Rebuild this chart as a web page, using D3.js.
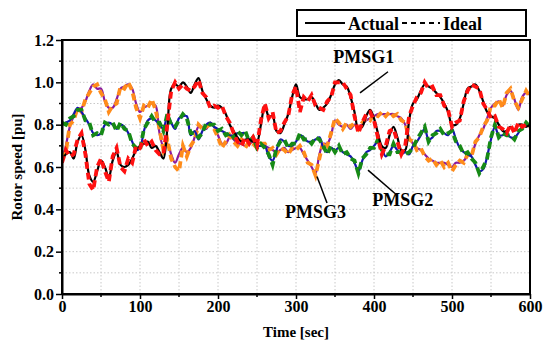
<!DOCTYPE html>
<html><head><meta charset="utf-8">
<script src="https://cdn.jsdelivr.net/npm/d3@7"></script>
<style>
html,body{margin:0;padding:0;background:#fff;}
svg text{font-family:"Liberation Serif","Times New Roman",Times,"DejaVu Serif",serif !important;font-weight:bold;}
</style></head>
<body><svg id="chart" width="543" height="347"></svg>
<script>
// time samples (s)
const time = d3.range(0, 601, 5);
const xTicks = [0,100,200,300,400,500,600];
const yTicks = [0.0,0.2,0.4,0.6,0.8,1.0,1.2];
const legendLabels = ["Actual","Ideal"];
const seriesNames = ["PMSG1","PMSG2","PMSG3"];

const pmsg1Actual = [0.63,0.66,0.67,0.64,0.72,0.75,0.68,0.56,0.53,0.58,0.63,0.60,0.55,0.63,0.67,0.61,0.60,0.61,0.64,0.68,
0.70,0.71,0.72,0.69,0.70,0.67,0.64,0.78,0.97,0.99,0.98,1.00,0.98,0.95,0.99,1.02,0.96,0.92,0.89,0.88,
0.89,0.88,0.85,0.80,0.77,0.74,0.72,0.73,0.73,0.72,0.72,0.80,0.89,0.84,0.84,0.77,0.76,0.80,0.85,0.93,
0.99,0.93,0.92,0.92,0.93,0.90,0.87,0.88,0.90,0.94,0.99,1.01,0.99,0.98,0.93,0.86,0.78,0.79,0.84,0.87,
0.83,0.76,0.70,0.69,0.75,0.79,0.74,0.68,0.68,0.82,0.90,0.92,0.96,0.99,0.98,0.97,0.95,0.93,0.90,0.86,
0.80,0.80,0.83,0.90,0.97,0.98,0.99,0.96,0.91,0.86,0.84,0.83,0.80,0.77,0.77,0.79,0.77,0.80,0.80,0.79,0.80];
const pmsg1Ideal = [0.62,0.68,0.65,0.66,0.73,0.76,0.66,0.52,0.49,0.60,0.64,0.58,0.53,0.65,0.69,0.60,0.58,0.64,0.62,0.70,
0.69,0.73,0.70,0.72,0.68,0.66,0.66,0.80,0.96,1.00,0.97,0.99,0.97,0.96,0.98,1.01,0.95,0.93,0.88,0.89,
0.88,0.89,0.84,0.81,0.76,0.72,0.70,0.74,0.71,0.74,0.70,0.82,0.90,0.83,0.86,0.76,0.77,0.81,0.84,0.94,
0.98,0.86,0.93,0.91,0.94,0.89,0.88,0.87,0.91,0.93,1.00,1.00,1.00,0.97,0.94,0.84,0.76,0.81,0.85,0.86,
0.82,0.74,0.66,0.70,0.77,0.78,0.72,0.66,0.70,0.84,0.89,0.93,0.95,1.00,0.97,0.98,0.94,0.94,0.89,0.87,
0.79,0.81,0.82,0.91,0.96,0.99,0.98,0.97,0.90,0.87,0.83,0.84,0.79,0.78,0.76,0.80,0.76,0.81,0.79,0.80,0.79];

const pmsg2Actual = [0.80,0.81,0.82,0.85,0.88,0.86,0.83,0.80,0.76,0.75,0.76,0.80,0.81,0.80,0.78,0.80,0.79,0.76,0.72,0.68,
0.69,0.77,0.82,0.83,0.82,0.80,0.78,0.84,0.81,0.78,0.83,0.84,0.84,0.75,0.77,0.73,0.77,0.80,0.81,0.79,
0.78,0.77,0.76,0.75,0.75,0.76,0.76,0.76,0.73,0.73,0.70,0.70,0.70,0.65,0.63,0.68,0.73,0.72,0.70,0.70,
0.72,0.75,0.74,0.72,0.72,0.73,0.74,0.69,0.67,0.69,0.68,0.69,0.67,0.66,0.65,0.62,0.58,0.63,0.67,0.68,
0.70,0.72,0.69,0.65,0.67,0.70,0.68,0.66,0.67,0.66,0.70,0.72,0.75,0.78,0.73,0.74,0.77,0.77,0.76,0.75,
0.78,0.73,0.69,0.67,0.66,0.65,0.61,0.58,0.59,0.65,0.73,0.79,0.75,0.75,0.76,0.74,0.74,0.76,0.79,0.80,0.80];
const pmsg2Ideal = [0.81,0.80,0.83,0.84,0.87,0.87,0.82,0.81,0.75,0.76,0.75,0.81,0.80,0.81,0.77,0.81,0.78,0.77,0.71,0.69,
0.68,0.78,0.81,0.84,0.81,0.81,0.77,0.85,0.80,0.79,0.82,0.85,0.83,0.76,0.76,0.74,0.76,0.81,0.80,0.80,
0.77,0.78,0.75,0.76,0.74,0.77,0.75,0.77,0.72,0.74,0.69,0.71,0.69,0.66,0.61,0.69,0.72,0.73,0.69,0.71,
0.71,0.76,0.73,0.73,0.71,0.74,0.73,0.70,0.66,0.70,0.67,0.70,0.66,0.67,0.64,0.63,0.57,0.64,0.66,0.69,
0.69,0.73,0.68,0.66,0.66,0.71,0.67,0.67,0.66,0.67,0.69,0.73,0.76,0.79,0.72,0.75,0.76,0.78,0.75,0.76,
0.77,0.72,0.70,0.66,0.67,0.64,0.62,0.57,0.60,0.64,0.74,0.80,0.74,0.76,0.75,0.75,0.73,0.77,0.78,0.81,0.79];

const pmsg3Actual = [0.62,0.70,0.79,0.84,0.87,0.88,0.91,0.96,0.99,0.97,0.97,0.91,0.88,0.88,0.92,0.97,0.98,0.99,0.97,0.90,
0.86,0.88,0.89,0.90,0.89,0.76,0.70,0.71,0.66,0.62,0.66,0.69,0.67,0.69,0.74,0.79,0.79,0.78,0.81,0.79,
0.75,0.71,0.71,0.74,0.73,0.71,0.71,0.70,0.71,0.72,0.70,0.70,0.70,0.69,0.68,0.67,0.68,0.69,0.67,0.68,
0.69,0.69,0.66,0.63,0.60,0.57,0.66,0.71,0.71,0.75,0.82,0.80,0.79,0.80,0.78,0.80,0.79,0.80,0.82,0.83,
0.84,0.85,0.85,0.85,0.85,0.85,0.84,0.83,0.80,0.74,0.71,0.69,0.68,0.66,0.64,0.63,0.62,0.62,0.62,0.61,
0.60,0.62,0.62,0.63,0.65,0.66,0.71,0.75,0.78,0.83,0.88,0.90,0.91,0.89,0.94,0.96,0.92,0.87,0.93,0.95,0.94];
const pmsg3Ideal = [0.64,0.67,0.80,0.82,0.88,0.86,0.92,0.95,0.98,0.99,0.95,0.92,0.86,0.89,0.90,0.98,0.97,1.00,0.96,0.88,
0.83,0.89,0.88,0.92,0.87,0.78,0.68,0.73,0.64,0.60,0.58,0.70,0.65,0.70,0.73,0.80,0.78,0.79,0.80,0.78,
0.74,0.69,0.72,0.75,0.72,0.70,0.73,0.69,0.72,0.71,0.69,0.71,0.71,0.68,0.69,0.66,0.69,0.68,0.66,0.69,
0.68,0.70,0.67,0.62,0.61,0.56,0.64,0.72,0.70,0.76,0.83,0.81,0.78,0.81,0.79,0.81,0.78,0.81,0.83,0.82,
0.85,0.84,0.86,0.84,0.86,0.84,0.85,0.82,0.81,0.73,0.72,0.68,0.69,0.65,0.63,0.64,0.61,0.63,0.60,0.62,
0.58,0.61,0.63,0.62,0.66,0.65,0.72,0.74,0.79,0.82,0.89,0.89,0.92,0.88,0.95,0.97,0.91,0.88,0.92,0.96,0.93];

const W = 543, H = 347;
const m = {left:62, right:13, top:40, bottom:53};
const svg = d3.select("#chart");
const x = d3.scaleLinear().domain([0,600]).range([m.left, W-m.right]);
const y = d3.scaleLinear().domain([0,1.2]).range([H-m.bottom, m.top]);
const FONT = "'Liberation Serif','Times New Roman',Times,'DejaVu Serif',serif";

// grid
const grid = svg.append("g").attr("stroke","#c8c8c8").attr("stroke-width",1).attr("stroke-dasharray","1.5,2");
d3.range(50,600,50).forEach(t=>grid.append("line").attr("x1",x(t)).attr("x2",x(t)).attr("y1",y(0)).attr("y2",y(1.2)));
d3.range(1,12).forEach(i=>{const v=i/10;grid.append("line").attr("x1",x(0)).attr("x2",x(600)).attr("y1",y(v)).attr("y2",y(v));});

// lines
const defs = svg.append("defs");
defs.append("clipPath").attr("id","clip").append("rect")
  .attr("x",m.left).attr("y",m.top).attr("width",W-m.left-m.right).attr("height",H-m.top-m.bottom);
const plot = svg.append("g").attr("clip-path","url(#clip)");
const lineSmooth = d3.line().x((d,i)=>x(time[i])).y(d=>y(d)).curve(d3.curveCatmullRom);
const lineLin = d3.line().x((d,i)=>x(time[i])).y(d=>y(d));
const groups = [
  {a:pmsg3Actual, i:pmsg3Ideal, ca:"#8a1a9e", ci:"#ff8c1a"},
  {a:pmsg2Actual, i:pmsg2Ideal, ca:"#1515b0", ci:"#168a16"},
  {a:pmsg1Actual, i:pmsg1Ideal, ca:"#000000", ci:"#ff1010"}
];
groups.forEach(g=>{
  plot.append("path").attr("d",lineSmooth(g.a)).attr("fill","none").attr("stroke",g.ca).attr("stroke-width",2.2);
  plot.append("path").attr("d",lineLin(g.i)).attr("fill","none").attr("stroke",g.ci).attr("stroke-width",3.8)
    .attr("stroke-dasharray","7,4");
});

// frame
svg.append("rect").attr("x",m.left).attr("y",m.top).attr("width",W-m.left-m.right).attr("height",H-m.top-m.bottom)
  .attr("fill","none").attr("stroke","#000").attr("stroke-width",2);

// axes
const xAxis = svg.append("g").attr("transform",`translate(0,${y(0)})`)
  .call(d3.axisBottom(x).tickValues(xTicks).tickFormat(d3.format("d")).tickSize(5).tickSizeOuter(0).tickPadding(2));
const yAxis = svg.append("g").attr("transform",`translate(${m.left},0)`)
  .call(d3.axisLeft(y).tickValues(yTicks).tickFormat(d3.format(".1f")).tickSize(6).tickSizeOuter(0).tickPadding(2));
[xAxis,yAxis].forEach(a=>{
  a.attr("font-family",FONT);
  a.select(".domain").attr("stroke-width",2);
  a.selectAll(".tick line").attr("stroke-width",1.5);
  a.selectAll("text").attr("font-size",16).attr("fill","#000")
   .attr("font-family",FONT).attr("font-weight","bold");
});
// minor ticks
d3.range(50,600,100).forEach(t=>svg.append("line").attr("x1",x(t)).attr("x2",x(t)).attr("y1",y(0)).attr("y2",y(0)+3).attr("stroke","#000").attr("stroke-width",1.5));
[0.1,0.3,0.5,0.7,0.9,1.1].forEach(v=>svg.append("line").attr("x1",x(0)-3).attr("x2",x(0)).attr("y1",y(v)).attr("y2",y(v)).attr("stroke","#000").attr("stroke-width",1.5));

// axis titles
svg.append("text").attr("x",(x(0)+x(600))/2).attr("y",337).attr("text-anchor","middle").attr("font-size",15).text("Time [sec]");
svg.append("text").attr("transform",`translate(22,${(y(0)+y(1.2))/2}) rotate(-90)`).attr("text-anchor","middle").attr("font-size",15).text("Rotor speed [pu]");

// legend
const lg = svg.append("g");
lg.append("rect").attr("x",297).attr("y",10).attr("width",229).attr("height",26).attr("fill","#fff").attr("stroke","#000").attr("stroke-width",2);
lg.append("line").attr("x1",305).attr("x2",345).attr("y1",23).attr("y2",23).attr("stroke","#000").attr("stroke-width",2);
lg.append("text").attr("x",348).attr("y",30).attr("font-size",18).text(legendLabels[0]);
lg.append("line").attr("x1",402).attr("x2",440).attr("y1",23).attr("y2",23).attr("stroke","#000").attr("stroke-width",2).attr("stroke-dasharray","5,4");
lg.append("text").attr("x",443).attr("y",30).attr("font-size",18).text(legendLabels[1]);

// annotations
const ann = [
  {name:seriesNames[0], tx:387, ty:1.09, x1:(388-62)/0.78, y1:1.05, x2:(360-62)/0.78, y2:0.95},
  {name:seriesNames[1], tx:437, ty:0.415, x1:(395-62)/0.78, y1:0.475, x2:(368-62)/0.78, y2:0.585},
  {name:seriesNames[2], tx:325, ty:0.36, x1:(327-62)/0.78, y1:0.43, x2:(317-62)/0.78, y2:0.555}
];
ann.forEach(a=>{
  svg.append("line").attr("x1",x(a.x1)).attr("y1",y(a.y1)).attr("x2",x(a.x2)).attr("y2",y(a.y2)).attr("stroke","#000").attr("stroke-width",1.5);
  svg.append("text").attr("x",x(a.tx)).attr("y",y(a.ty)).attr("text-anchor","middle").attr("font-size",18).text(a.name);
});
</script></body></html>
